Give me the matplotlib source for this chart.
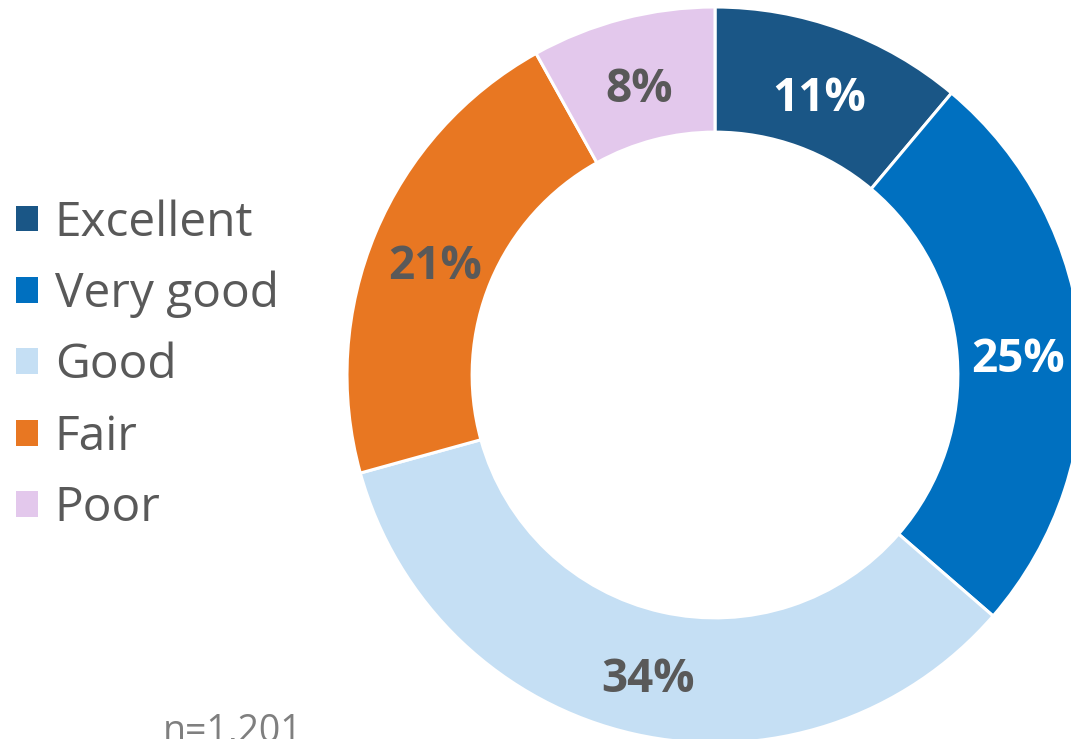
import matplotlib
matplotlib.use("Agg")
import matplotlib.pyplot as plt
import matplotlib.patches as mpatches
import numpy as np

# Datos
categories = ["Excellent", "Very good", "Good", "Fair", "Poor"]
values = [11, 25, 34, 21, 8]
colors = ["#1A5686", "#0070C0", "#C5DFF4", "#E87722", "#E3C8EC"]
label_colors = ["white", "white", "#595959", "#595959", "#595959"]
sample_note = "n=1,201"

W, H = 1071, 739
fig = plt.figure(figsize=(W / 100, H / 100), dpi=100)

# Donut: centro (715, 375) px, radio 368 px
cx, cy, r = 715, 375, 368
ax = fig.add_axes([(cx - r) / W, (H - cy - r) / H, 2 * r / W, 2 * r / H])

wedges, _ = ax.pie(
    values,
    colors=colors,
    startangle=90,
    counterclock=False,
    radius=1.0,
    wedgeprops=dict(width=0.34, edgecolor="white", linewidth=2.2),
)

# Etiquetas de porcentaje (desplazadas un poco hacia abajo)
for w, v, lc in zip(wedges, values, label_colors):
    ang = np.deg2rad((w.theta1 + w.theta2) / 2)
    ax.annotate(
        f"{v}%",
        xy=(0.825 * np.cos(ang), 0.825 * np.sin(ang)),
        xytext=(0, -6),
        textcoords="offset points",
        ha="center",
        va="center",
        fontsize=33,
        fontweight="bold",
        family="Open Sans",
        color=lc,
    )
ax.set_xlim(-1, 1)
ax.set_ylim(-1, 1)
ax.set_aspect("equal")
ax.axis("off")

# Leyenda
patches = [mpatches.Patch(facecolor=c, edgecolor="none", label=l) for c, l in zip(colors, categories)]
leg = fig.legend(
    handles=patches,
    loc="upper left",
    bbox_to_anchor=(16 / W, 1 - 199 / H),
    frameon=False,
    prop={"family": "Open Sans", "size": 34.5},
    labelcolor="#595959",
    handlelength=0.45,
    handleheight=0.45,
    handletextpad=0.36,
    labelspacing=0.5,
    borderaxespad=0,
    borderpad=0,
)

fig.text(163 / W, 1 - 742 / H, sample_note, fontsize=27, family="Open Sans",
         color="#7F7F7F", ha="left", va="baseline")

fig.savefig("out.png", dpi=100)
